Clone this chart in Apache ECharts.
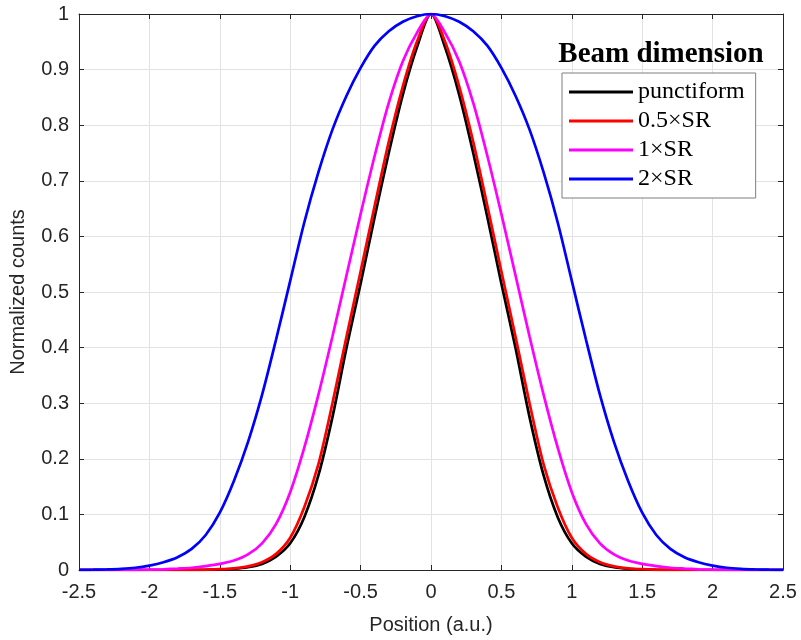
<!DOCTYPE html>
<html>
<head>
<meta charset="utf-8">
<title>Beam dimension</title>
<script src="https://cdn.jsdelivr.net/npm/echarts@6/dist/echarts.min.js"></script>
<style>
  html, body { margin: 0; padding: 0; background: #fff; }
  #chart { width: 801px; height: 640px; }
</style>
</head>
<body>
<div id="chart"></div>
<script>
  // sampled positions (a.u.)
  const positions = [
    -2.5, -2.4, -2.3, -2.2, -2.1, -2.0, -1.9, -1.8, -1.7, -1.6,
    -1.5, -1.4, -1.3, -1.2, -1.1, -1.0, -0.9, -0.8, -0.7, -0.6,
    -0.5, -0.4, -0.3, -0.2, -0.1, 0,
    0.1, 0.2, 0.3, 0.4, 0.5, 0.6, 0.7, 0.8, 0.9, 1.0,
    1.1, 1.2, 1.3, 1.4, 1.5, 1.6, 1.7, 1.8, 1.9, 2.0,
    2.1, 2.2, 2.3, 2.4, 2.5
  ];

  const punctiform = [
    0, 0, 0, 0, 0, 0, 0, 0, 0.0001, 0.0004,
    0.001, 0.0022, 0.005, 0.011, 0.024, 0.048, 0.095, 0.17, 0.275, 0.40,
    0.515, 0.635, 0.75, 0.855, 0.94, 1,
    0.94, 0.855, 0.75, 0.635, 0.515, 0.40, 0.275, 0.17, 0.095, 0.048,
    0.024, 0.011, 0.005, 0.0022, 0.001, 0.0004, 0.0001, 0, 0, 0,
    0, 0, 0, 0, 0
  ];

  const halfSR = [
    0, 0, 0, 0, 0, 0, 0, 0, 0.0002, 0.0006,
    0.0014, 0.003, 0.0065, 0.014, 0.029, 0.058, 0.113, 0.19, 0.30, 0.42,
    0.537, 0.655, 0.77, 0.87, 0.95, 1,
    0.95, 0.87, 0.77, 0.655, 0.537, 0.42, 0.30, 0.19, 0.113, 0.058,
    0.029, 0.014, 0.0065, 0.003, 0.0014, 0.0006, 0.0002, 0, 0, 0,
    0, 0, 0, 0, 0
  ];

  const oneSR = [
    0, 0, 0, 0, 0.0002, 0.0006, 0.0013, 0.0025, 0.004, 0.007,
    0.011, 0.017, 0.028, 0.048, 0.083, 0.14, 0.22, 0.315, 0.42, 0.53,
    0.64, 0.745, 0.84, 0.915, 0.966, 1,
    0.966, 0.915, 0.84, 0.745, 0.64, 0.53, 0.42, 0.315, 0.22, 0.14,
    0.083, 0.048, 0.028, 0.017, 0.011, 0.007, 0.004, 0.0025, 0.0013, 0.0006,
    0.0002, 0, 0, 0, 0
  ];

  const twoSR = [
    0.0002, 0.0005, 0.001, 0.002, 0.004, 0.008, 0.014, 0.023, 0.038, 0.063,
    0.103, 0.16, 0.23, 0.315, 0.415, 0.52, 0.625, 0.715, 0.792, 0.853,
    0.903, 0.943, 0.969, 0.986, 0.996, 1,
    0.996, 0.986, 0.969, 0.943, 0.903, 0.853, 0.792, 0.715, 0.625, 0.52,
    0.415, 0.315, 0.23, 0.16, 0.103, 0.063, 0.038, 0.023, 0.014, 0.008,
    0.004, 0.002, 0.001, 0.0005, 0.0002
  ];

  const seriesNames = ['punctiform', '0.5\u00d7SR', '1\u00d7SR', '2\u00d7SR'];
  const seriesColors = ['#000000', '#ff0000', '#ff00ff', '#0000ff'];
  const seriesValues = [punctiform, halfSR, oneSR, twoSR];

  const sansFont = '"Liberation Sans", Arial, Helvetica, sans-serif';
  const serifFont = '"Liberation Serif", "Times New Roman", serif';
  const axisColor = '#262626';

  function pairs(values) {
    return positions.map((x, i) => [x, values[i]]);
  }

  let chart = echarts.init(document.getElementById('chart'));

  // box axes (top / right) only carry ticks, like matlab "box on"
  const boxX = {
    type: 'value', position: 'top', min: -2.5, max: 2.5, interval: 0.5,
    axisLine: { show: true, onZero: false, lineStyle: { color: axisColor, width: 1 } },
    axisTick: { show: true, inside: true, length: 5, lineStyle: { color: axisColor } },
    axisLabel: { show: false },
    splitLine: { show: false }
  };
  const boxY = {
    type: 'value', position: 'right', min: 0, max: 1, interval: 0.1,
    axisLine: { show: true, onZero: false, lineStyle: { color: axisColor, width: 1 } },
    axisTick: { show: true, inside: true, length: 5, lineStyle: { color: axisColor } },
    axisLabel: { show: false },
    splitLine: { show: false }
  };

  chart.setOption({
    animation: false,
    backgroundColor: '#ffffff',
    title: {
      text: 'Beam dimension',
      left: 661,
      top: 40,
      textAlign: 'center',
      padding: 0,
      textStyle: { fontFamily: serifFont, fontWeight: 'bold', fontSize: 29, color: '#000' }
    },
    legend: {
      data: seriesNames,
      orient: 'vertical',
      left: 562,
      top: 73,
      padding: [7, 11, 7, 7],
      itemGap: 5,
      itemWidth: 64,
      itemHeight: 3,
      icon: 'rect',
      backgroundColor: '#ffffff',
      borderColor: '#7f7f7f',
      borderWidth: 1,
      textStyle: { fontFamily: serifFont, fontSize: 24, lineHeight: 22, color: '#000' }
    },
    grid: { left: 79, right: 18, top: 14, bottom: 70, containLabel: false },
    xAxis: [{
      type: 'value',
      min: -2.5,
      max: 2.5,
      interval: 0.5,
      name: 'Position (a.u.)',
      nameLocation: 'middle',
      nameGap: 45,
      nameTextStyle: { fontFamily: sansFont, fontSize: 20, color: axisColor },
      axisLine: { show: true, onZero: false, lineStyle: { color: axisColor, width: 1 } },
      axisTick: { show: true, inside: true, length: 5, lineStyle: { color: axisColor } },
      axisLabel: { margin: 12, fontFamily: sansFont, fontSize: 20, color: axisColor },
      splitLine: { show: true, lineStyle: { color: '#e3e3e3', width: 1 } }
    }, boxX],
    yAxis: [{
      type: 'value',
      min: 0,
      max: 1,
      interval: 0.1,
      name: 'Normalized counts',
      nameLocation: 'middle',
      nameGap: 51,
      nameTextStyle: { fontFamily: sansFont, fontSize: 20, color: axisColor },
      axisLine: { show: true, onZero: false, lineStyle: { color: axisColor, width: 1 } },
      axisTick: { show: true, inside: true, length: 5, lineStyle: { color: axisColor } },
      axisLabel: { margin: 10, fontFamily: sansFont, fontSize: 20, color: axisColor },
      splitLine: { show: true, lineStyle: { color: '#e3e3e3', width: 1 } }
    }, boxY],
    series: seriesNames.map((name, k) => ({
      name: name,
      type: 'line',
      data: pairs(seriesValues[k]),
      smooth: 0.3,
      showSymbol: false,
      symbol: 'none',
      color: seriesColors[k],
      lineStyle: { color: seriesColors[k], width: 2.7 },
      z: 2 + k
    }))
  });
</script>
</body>
</html>
